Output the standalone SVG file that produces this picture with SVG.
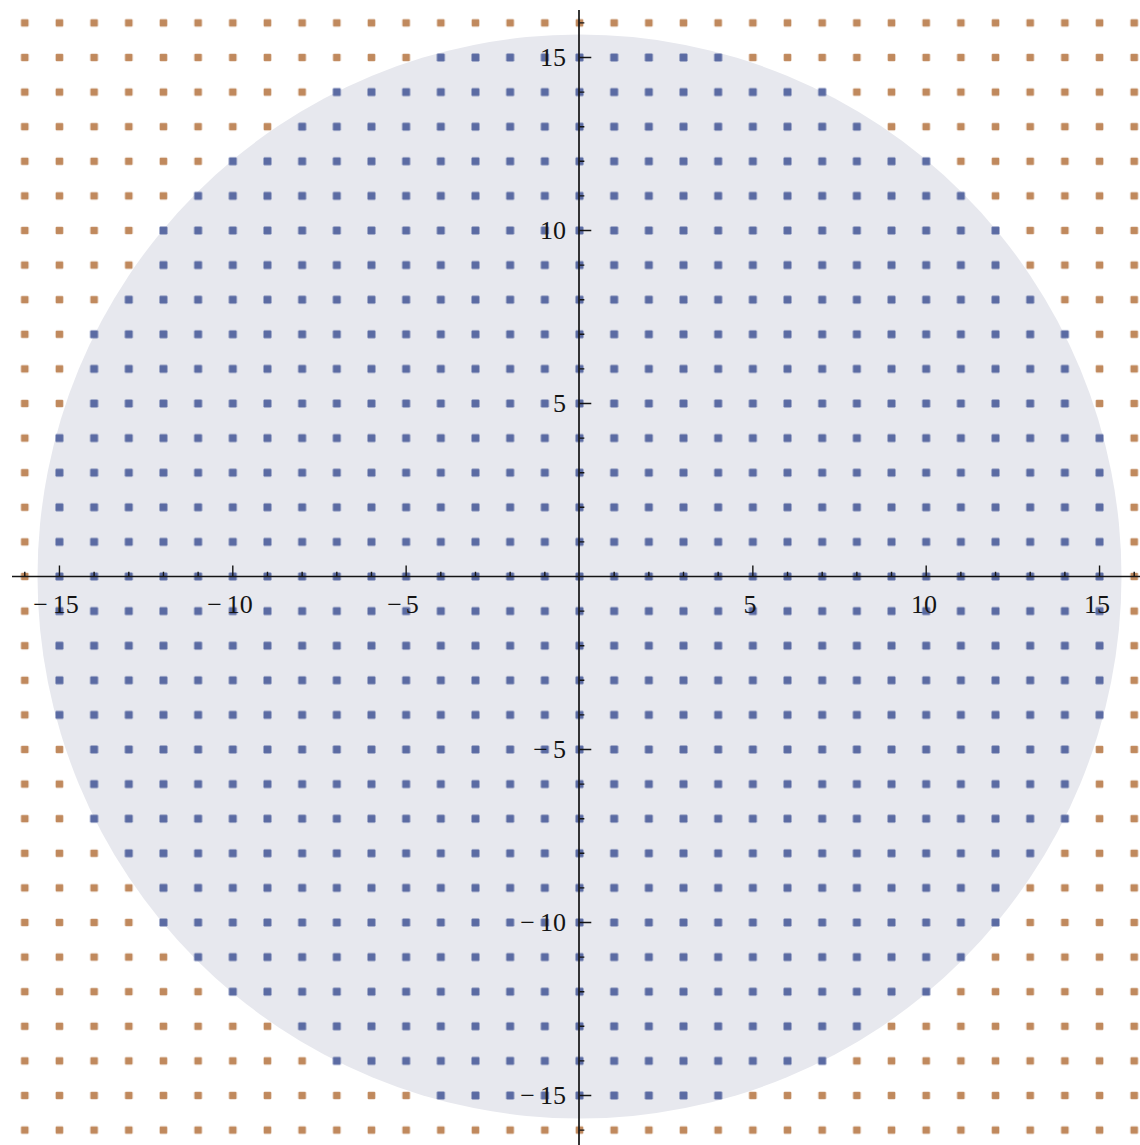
<svg xmlns="http://www.w3.org/2000/svg" width="1140" height="1145" viewBox="0 0 1140 1145">
<style>
.ax{stroke:#141414;stroke-width:1.7;fill:none}
.tk{stroke:#141414;stroke-width:1.4;fill:none}
.lb{font-family:"Liberation Serif","Times New Roman",serif;font-size:26px;fill:#141414}
</style>
<defs>
<pattern id="pb" patternUnits="userSpaceOnUse" x="-0.5" y="-0.5" width="1" height="1"><rect x="0.385" y="0.385" width="0.23" height="0.23" rx="0.03" fill="#5b6ba3"/></pattern>
<pattern id="po" patternUnits="userSpaceOnUse" x="-0.5" y="-0.5" width="1" height="1"><rect x="0.39" y="0.39" width="0.22" height="0.22" rx="0.03" fill="#c0895d"/></pattern>
<clipPath id="cin"><path d="M-4.5 15.5H4.5V14.5H7.5V13.5H8.5V12.5H10.5V11.5H11.5V10.5H12.5V8.5H13.5V7.5H14.5V4.5H15.5V-4.5H14.5V-7.5H13.5V-8.5H12.5V-10.5H11.5V-11.5H10.5V-12.5H8.5V-13.5H7.5V-14.5H4.5V-15.5H-4.5V-14.5H-7.5V-13.5H-8.5V-12.5H-10.5V-11.5H-11.5V-10.5H-12.5V-8.5H-13.5V-7.5H-14.5V-4.5H-15.5V4.5H-14.5V7.5H-13.5V8.5H-12.5V10.5H-11.5V11.5H-10.5V12.5H-8.5V13.5H-7.5V14.5H-4.5Z"/></clipPath>
<clipPath id="cout"><path clip-rule="evenodd" d="M-17 -17H17V17H-17Z M-4.5 15.5H4.5V14.5H7.5V13.5H8.5V12.5H10.5V11.5H11.5V10.5H12.5V8.5H13.5V7.5H14.5V4.5H15.5V-4.5H14.5V-7.5H13.5V-8.5H12.5V-10.5H11.5V-11.5H10.5V-12.5H8.5V-13.5H7.5V-14.5H4.5V-15.5H-4.5V-14.5H-7.5V-13.5H-8.5V-12.5H-10.5V-11.5H-11.5V-10.5H-12.5V-8.5H-13.5V-7.5H-14.5V-4.5H-15.5V4.5H-14.5V7.5H-13.5V8.5H-12.5V10.5H-11.5V11.5H-10.5V12.5H-8.5V13.5H-7.5V14.5H-4.5Z"/></clipPath>
</defs>
<rect width="1140" height="1145" fill="#ffffff"/>
<g id="disc"><circle cx="579.5" cy="576.5" r="542" fill="#e7e8ee"/></g>
<g id="points" transform="translate(579.5 576.5) scale(34.67 -34.6)">
<rect x="-16.5" y="-16.5" width="33" height="33" fill="url(#po)" clip-path="url(#cout)"/>
<rect x="-16.5" y="-16.5" width="33" height="33" fill="url(#pb)" clip-path="url(#cin)"/>
</g>
<g id="axes">
<path class="ax" d="M12 576.5H1140M579 10V1145"/>
<g transform="translate(579.5 576.5) scale(34.67 -34.6)">
<path class="tk" vector-effect="non-scaling-stroke" d="M-16 0V0.14M-14 0V0.14M-13 0V0.14M-12 0V0.14M-11 0V0.14M-9 0V0.14M-8 0V0.14M-7 0V0.14M-6 0V0.14M-4 0V0.14M-3 0V0.14M-2 0V0.14M-1 0V0.14M1 0V0.14M2 0V0.14M3 0V0.14M4 0V0.14M6 0V0.14M7 0V0.14M8 0V0.14M9 0V0.14M11 0V0.14M12 0V0.14M13 0V0.14M14 0V0.14M16 0V0.14M-15 0V0.32M-10 0V0.32M-5 0V0.32M5 0V0.32M10 0V0.32M15 0V0.32"/>
<path class="tk" vector-effect="non-scaling-stroke" d="M0 -16H0.14M0 -14H0.14M0 -13H0.14M0 -12H0.14M0 -11H0.14M0 -9H0.14M0 -8H0.14M0 -7H0.14M0 -6H0.14M0 -4H0.14M0 -3H0.14M0 -2H0.14M0 -1H0.14M0 1H0.14M0 2H0.14M0 3H0.14M0 4H0.14M0 6H0.14M0 7H0.14M0 8H0.14M0 9H0.14M0 11H0.14M0 12H0.14M0 13H0.14M0 14H0.14M0 16H0.14M0 -15H0.34M0 -10H0.34M0 -5H0.34M0 5H0.34M0 10H0.34M0 15H0.34"/>
</g>
</g>
<g id="xlabels" class="lb" text-anchor="middle">
<text x="56" y="613">−<tspan dx="5">15</tspan></text>
<text x="230" y="613">−<tspan dx="5">10</tspan></text>
<text x="403" y="613">−<tspan dx="4">5</tspan></text>
<text x="750" y="613">5</text>
<text x="924" y="613">10</text>
<text x="1097" y="613">15</text>
</g>
<g id="ylabels" class="lb" text-anchor="end">
<text x="566" y="65.5">15</text>
<text x="566" y="238.5">10</text>
<text x="566" y="411.5">5</text>
<text x="566" y="757.5">−<tspan dx="5">5</tspan></text>
<text x="566" y="930.5">−<tspan dx="5">10</tspan></text>
<text x="566" y="1103.5">−<tspan dx="5">15</tspan></text>
</g>
</svg>
